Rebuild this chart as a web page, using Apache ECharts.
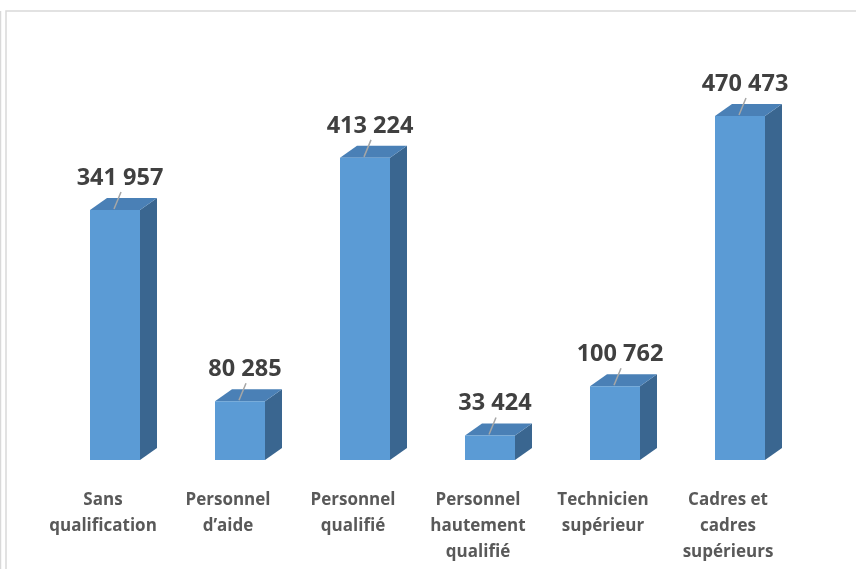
<!DOCTYPE html>
<html><head><meta charset="utf-8">
<script src="https://cdn.jsdelivr.net/npm/echarts@6/dist/echarts.min.js"></script>
<style>html,body{margin:0;padding:0;background:#fff}#c{width:856px;height:569px}</style>
</head><body><div id="c"></div>
<script>
const categories = ['Sans\nqualification', 'Personnel\nd\u2019aide', 'Personnel\nqualifié', 'Personnel\nhautement\nqualifié', 'Technicien\nsupérieur', 'Cadres et\ncadres\nsupérieurs'];
const values = [341957, 80285, 413224, 33424, 100762, 470473];
const valueLabels = ['341 957', '80 285', '413 224', '33 424', '100 762', '470 473'];

const chart = echarts.init(document.getElementById('c'));
const FRONT = '#5B9BD5', TOP = '#4A80B6', SIDE = '#3A6690';

function renderItem(params, api) {
  const i = api.value(0), v = api.value(1);
  const top = api.coord([i, v]);
  const base = api.coord([i, 0]);
  const band = api.size([1, 0])[0];
  const w = band * 0.4;
  const dx = band * 0.136, dy = 12;
  const x0 = top[0] - w / 2, x1 = top[0] + w / 2;
  const yt = top[1], yb = base[1];
  return {
    type: 'group',
    children: [
      { type: 'polygon', shape: { points: [[x1, yt], [x1 + dx, yt - dy], [x1 + dx, yb - dy], [x1, yb]] }, style: { fill: SIDE } },
      { type: 'polygon', shape: { points: [[x0, yt], [x0 + dx, yt - dy], [x1 + dx, yt - dy], [x1, yt]] }, style: { fill: TOP } },
      { type: 'rect', shape: { x: x0, y: yt, width: w, height: yb - yt }, style: { fill: FRONT } },
      { type: 'line', shape: { x1: top[0] - 1, y1: yt - 1, x2: top[0] + 6, y2: yt - 18 }, style: { stroke: '#a6a6a6', lineWidth: 1.5 } },
      { type: 'text', x: top[0] + 5, y: yt - 32, style: { text: valueLabels[i], fill: '#404040', font: 'bold 23.5px "Open Sans"', align: 'center', verticalAlign: 'middle' } }
    ]
  };
}

chart.setOption({
  animation: false,
  graphic: [
    { type: 'rect', shape: { x: 6, y: 11, width: 860, height: 600 }, style: { fill: 'none', stroke: '#d9d9d9', lineWidth: 1.5 } },
    { type: 'line', shape: { x1: 0.5, y1: 11, x2: 0.5, y2: 569 }, style: { stroke: '#d9d9d9', lineWidth: 1.5 } }
  ],
  grid: { left: 52.5, right: 53.5, top: 94.4, bottom: 109 },
  xAxis: {
    type: 'category', data: categories,
    axisLine: { show: false }, axisTick: { show: false },
    axisLabel: { interval: 0, margin: 27, color: '#595959', fontFamily: 'Open Sans', fontWeight: 'bold', fontSize: 17, lineHeight: 26, padding: [0, 24, 0, 0] }
  },
  yAxis: { type: 'value', min: 0, max: 500000, show: false, splitLine: { show: false } },
  series: [{
    type: 'custom', renderItem: renderItem,
    data: values.map((v, i) => [i, v])
  }]
});
</script></body></html>
